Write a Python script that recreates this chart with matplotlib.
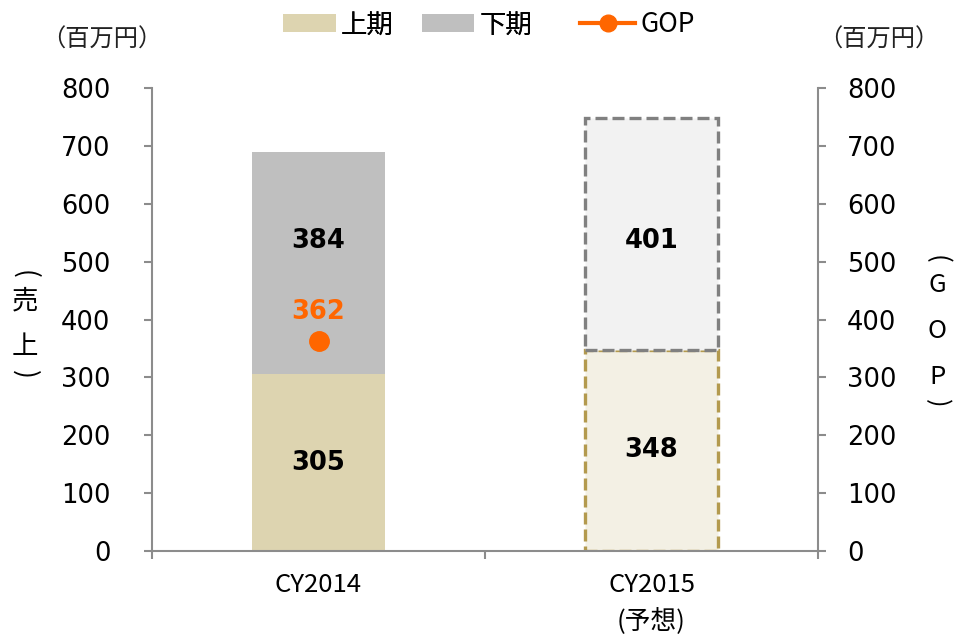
import matplotlib
matplotlib.use("Agg")
import matplotlib.pyplot as plt
from matplotlib.patches import Patch
from matplotlib.lines import Line2D

# ---- data ----
categories = ["CY2014", "CY2015\n(予想)"]
first_half = [305, 348]      # 上期
second_half = [384, 401]     # 下期
gop = [362]                  # GOP (CY2014 only)
yticks = [0, 100, 200, 300, 400, 500, 600, 700, 800]

# ---- styles ----
c_first = "#DDD4B0"
c_second = "#BFBFBF"
c_first_fc = "#F3F0E4"
c_first_ec = "#B39A4E"
c_second_fc = "#F2F2F2"
c_second_ec = "#808080"
c_gop = "#FF6600"
c_spine = "#8C8C8C"
JP = ["Noto Sans CJK JP", "DejaVu Sans"]

W, H = 955, 638
fig = plt.figure(figsize=(W / 100, H / 100), dpi=100)
ax = fig.add_axes([152 / W, 1 - 551 / H, 666 / W, 463 / H])

x = list(range(len(categories)))
bw = 0.4

# actual year: solid bars
ax.bar(x[0], first_half[0], bw, color=c_first, zorder=2)
ax.bar(x[0], second_half[0], bw, bottom=first_half[0], color=c_second, zorder=2)

# forecast year: light fill with dashed outline
dash = (0, (3.6, 1.5))
ax.bar(x[1], first_half[1], bw, facecolor=c_first_fc, edgecolor=c_first_ec,
       linewidth=2.4, linestyle=dash, zorder=2)
ax.bar(x[1], second_half[1], bw, bottom=first_half[1], facecolor=c_second_fc,
       edgecolor=c_second_ec, linewidth=2.4, linestyle=dash, zorder=3)

# segment value labels
upper_label_y = 535
for i in x:
    ax.text(i, first_half[i] / 2, str(first_half[i]), ha="center", va="center",
            fontsize=18.5, fontweight="bold", family="DejaVu Sans", zorder=5)
    ax.text(i, upper_label_y, str(second_half[i]), ha="center", va="center",
            fontsize=18.5, fontweight="bold", family="DejaVu Sans", zorder=5)

ax.set_xlim(-0.5, 1.5)
ax.set_ylim(0, 800)
ax.set_yticks(yticks)
ax.set_yticklabels([str(v) for v in yticks], family="DejaVu Sans", fontsize=18.5)

# category boundaries carry the tick marks, labels sit at the centres
ax.set_xticks([-0.5, 0.5, 1.5])
ax.set_xticklabels([])
ax.set_xticks(x, minor=True)
ax.set_xticklabels(categories, minor=True, family=JP,
                   fontsize=18.5, linespacing=1.5, va="top")
ax.tick_params(axis="x", which="minor", length=0, pad=15)
ax.tick_params(axis="x", which="major", direction="out", length=6, width=1.5,
               color=c_spine)
ax.tick_params(axis="y", direction="out", length=6, width=1.5, color=c_spine,
               pad=24)

for side in ["top", "right"]:
    ax.spines[side].set_visible(False)
for side in ["left", "bottom"]:
    ax.spines[side].set_color(c_spine)
    ax.spines[side].set_linewidth(1.5)

# GOP on the secondary axis
ax2 = ax.twinx()
ax2.set_ylim(0, 800)
ax2.set_yticks(yticks)
ax2.set_yticklabels([str(v) for v in yticks], family="DejaVu Sans", fontsize=18.5)
ax2.tick_params(axis="y", direction="out", length=6, width=1.5, color=c_spine,
                pad=15)
for side in ["top", "left", "bottom"]:
    ax2.spines[side].set_visible(False)
ax2.spines["right"].set_color(c_spine)
ax2.spines["right"].set_linewidth(1.5)
ax2.plot(x[:len(gop)], gop, color=c_gop, marker="o", markersize=14,
         linewidth=3, zorder=6)
for i, v in enumerate(gop):
    ax2.annotate(str(v), (x[i], v), xytext=(0, 21), textcoords="offset points",
                 ha="center", va="center", fontsize=18.5, fontweight="bold",
                 color=c_gop, family="DejaVu Sans")

# units
fig.text(102 / W, 1 - 40 / H, "（百万円）", ha="center", va="center",
         fontsize=17.5, family=JP, color="#222222")
fig.text(879 / W, 1 - 40 / H, "（百万円）", ha="center", va="center",
         fontsize=17.5, family=JP, color="#222222")


def vertical_title(xp, chars, ys, size):
    """Stack characters top-to-bottom; brackets are turned sideways."""
    for ch, yp in zip(chars, ys):
        rot = -90 if ch in "()" else 0
        fig.text(xp / W, 1 - yp / H, ch, ha="center", va="center",
                 fontsize=size, family=JP, rotation=rot,
                 rotation_mode="anchor")


vertical_title(25, ["(", "売", "上", ")"], [274, 301, 347, 374], 19)
vertical_title(937, ["(", "G", "O", "P", ")"], [259, 285, 331, 377, 403], 18.5)

# legend: bar entries and the GOP line entry
legend_kw = dict(frameon=False, prop={"family": JP, "size": 19},
                 handleheight=0.65, handletextpad=0.2, borderaxespad=0,
                 borderpad=0)
leg_bars = fig.legend(
    [Patch(facecolor=c_first, edgecolor="none"),
     Patch(facecolor=c_second, edgecolor="none")],
    ["上期", "下期"], loc="center left", bbox_to_anchor=(283 / W, 1 - 25 / H),
    ncol=2, handlelength=2.0, columnspacing=1.05, **legend_kw)
fig.legend(
    [Line2D([], [], color=c_gop, marker="o", markersize=12, linewidth=3)],
    ["GOP"], loc="center left", bbox_to_anchor=(580 / W, 1 - 25 / H),
    handlelength=2.1, **legend_kw)
fig.add_artist(leg_bars)

fig.savefig("out.png", dpi=100)
